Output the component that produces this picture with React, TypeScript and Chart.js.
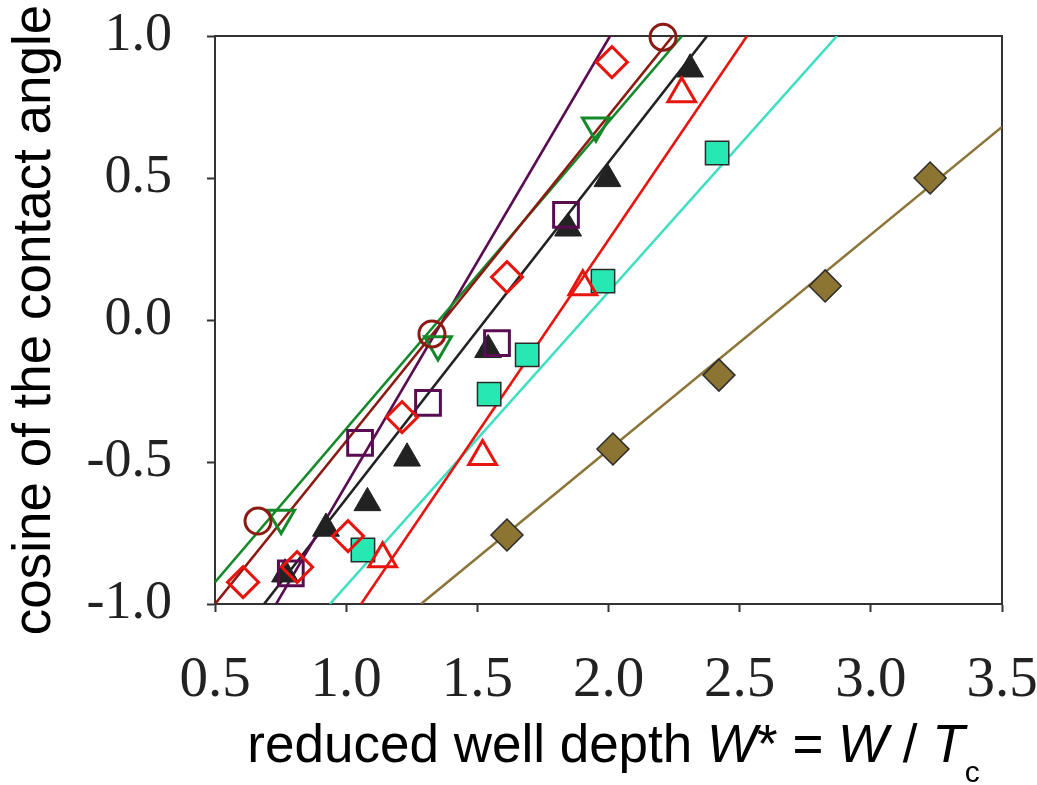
import React, { useEffect, useRef } from "react";
import { Chart, registerables } from "chart.js";

Chart.register(...registerables);

// ---- data ----
const xTicks = [0.5, 1.0, 1.5, 2.0, 2.5, 3.0, 3.5];
const yTicks = [-1.0, -0.5, 0.0, 0.5, 1.0];

// open dark-red circles
const circleX = [0.664, 1.327, 2.208];
const circleY = [-0.708, -0.049, 0.996];
// open green down-triangles
const downTriX = [0.752, 1.35, 1.952];
const downTriY = [-0.697, -0.086, 0.684];
// open purple squares
const purpleSqX = [0.789, 1.053, 1.312, 1.575, 1.838];
const purpleSqY = [-0.892, -0.433, -0.292, -0.081, 0.37];
// filled black triangles
const blackTriX = [0.767, 0.923, 1.081, 1.232, 1.541, 1.846, 1.996, 2.311];
const blackTriY = [-0.895, -0.734, -0.644, -0.487, -0.105, 0.323, 0.497, 0.883];
// open red diamonds
const redDiaX = [0.607, 0.813, 1.007, 1.213, 1.613, 2.013];
const redDiaY = [-0.923, -0.87, -0.761, -0.342, 0.151, 0.908];
// open red up-triangles
const redTriX = [1.139, 1.52, 1.902, 2.279];
const redTriY = [-0.841, -0.481, 0.117, 0.797];
// filled cyan squares
const cyanSqX = [1.064, 1.545, 1.69, 1.979, 2.414];
const cyanSqY = [-0.81, -0.261, -0.123, 0.137, 0.588];
// filled brown diamonds
const brownDiaX = [1.613, 2.017, 2.421, 2.826, 3.226];
const brownDiaY = [-0.757, -0.454, -0.194, 0.12, 0.5];

// fitted lines (end points read at the frame edges)
const fitDarkRedX = [0.5, 2.245];
const fitDarkRedY = [-1.0, 1.0];
const fitGreenX = [0.5, 2.28];
const fitGreenY = [-0.923, 1.0];
const fitPurpleX = [0.733, 2.006];
const fitPurpleY = [-1.0, 1.0];
const fitBlackX = [0.687, 2.376];
const fitBlackY = [-1.0, 1.0];
const fitRedX = [1.057, 2.528];
const fitRedY = [-1.0, 1.0];
const fitCyanX = [0.938, 2.871];
const fitCyanY = [-1.0, 1.0];
const fitBrownX = [1.285, 3.5];
const fitBrownY = [-1.0, 0.68];

const pts = (xs: number[], ys: number[]) => xs.map((x, i) => ({ x, y: ys[i] }));

const C = {
  darkRed: "#8c1a12",
  green: "#14892a",
  purple: "#5a0c52",
  black: "#222222",
  red: "#e8150e",
  cyanFill: "#27e8b2",
  cyanLine: "#3fdfc2",
  brownFill: "#8c7432",
  brownLine: "#8c7538",
  edge: "#2a2a2a",
};

const lineDs = (xs: number[], ys: number[], color: string) => ({
  type: "scatter" as const,
  data: pts(xs, ys),
  showLine: true,
  borderColor: color,
  borderWidth: 2.6,
  pointRadius: 0,
  fill: false,
  order: 10,
});

const markerDs = (
  xs: number[],
  ys: number[],
  style: string,
  radius: number,
  border: string,
  fillColor: string,
  bw: number,
  rotation = 0,
  order = 1
) => ({
  type: "scatter" as const,
  data: pts(xs, ys),
  showLine: false,
  pointStyle: style,
  pointRadius: radius,
  pointRotation: rotation,
  pointBorderColor: border,
  pointBackgroundColor: fillColor,
  pointBorderWidth: bw,
  borderColor: border,
  backgroundColor: fillColor,
  clip: false,
  order,
});

const framePlugin = {
  id: "frame",
  beforeDatasetsDraw(chart: any) {
    const { ctx, chartArea: a } = chart;
    ctx.save();
    ctx.strokeStyle = "#333";
    ctx.lineWidth = 2;
    ctx.beginPath();
    ctx.moveTo(a.left, a.top);
    ctx.lineTo(a.right, a.top);
    ctx.lineTo(a.right, a.bottom);
    ctx.stroke();
    ctx.restore();
  },
};

const xTitlePlugin = {
  id: "xTitle",
  afterDraw(chart: any) {
    const { ctx, chartArea: a } = chart;
    const normal = '53px "Liberation Sans", Arial, sans-serif';
    const italic = 'italic 53px "Liberation Sans", Arial, sans-serif';
    const small = '30px "Liberation Sans", Arial, sans-serif';
    const parts = [
      { t: "reduced well depth ", f: normal, dy: 0 },
      { t: "W", f: italic, dy: 0 },
      { t: "* = ", f: normal, dy: 0 },
      { t: "W", f: italic, dy: 0 },
      { t: " / ", f: normal, dy: 0 },
      { t: "T", f: italic, dy: 0 },
      { t: "c", f: small, dy: 20 },
    ];
    ctx.save();
    ctx.fillStyle = "#000";
    ctx.textBaseline = "alphabetic";
    ctx.textAlign = "left";
    let total = 0;
    const widths = parts.map((p) => {
      ctx.font = p.f;
      const w = ctx.measureText(p.t).width;
      total += w;
      return w;
    });
    let x = (a.left + a.right) / 2 + 5 - total / 2;
    const base = a.bottom + 158;
    parts.forEach((p, i) => {
      ctx.font = p.f;
      ctx.fillText(p.t, x, base + p.dy);
      x += widths[i];
    });
    ctx.restore();
  },
};

export default function App() {
  const ref = useRef<HTMLCanvasElement | null>(null);

  useEffect(() => {
    document.body.style.margin = "0";
    const canvas = ref.current;
    if (!canvas) return;
    const chart = new Chart(canvas, {
      type: "scatter",
      data: {
        datasets: [
          lineDs(fitDarkRedX, fitDarkRedY, C.darkRed),
          lineDs(fitGreenX, fitGreenY, C.green),
          lineDs(fitPurpleX, fitPurpleY, C.purple),
          lineDs(fitBlackX, fitBlackY, C.black),
          lineDs(fitRedX, fitRedY, C.red),
          lineDs(fitCyanX, fitCyanY, C.cyanLine),
          lineDs(fitBrownX, fitBrownY, C.brownLine),
          markerDs(redDiaX, redDiaY, "rectRot", 15.5, C.red, "rgba(0,0,0,0)", 3, 0, 0),
          markerDs(circleX, circleY, "circle", 13, C.darkRed, "rgba(0,0,0,0)", 3, 0, 1),
          markerDs(downTriX, downTriY, "triangle", 15.5, C.green, "rgba(0,0,0,0)", 3, 180, 1),
          markerDs(purpleSqX, purpleSqY, "rect", 17.5, C.purple, "rgba(0,0,0,0)", 3, 0, 2),
          markerDs(blackTriX, blackTriY, "triangle", 15.5, C.black, C.black, 1, 0, 3),
          markerDs(redTriX, redTriY, "triangle", 16, C.red, "rgba(0,0,0,0)", 3, 0, 1),
          markerDs(cyanSqX, cyanSqY, "rect", 16.5, C.edge, C.cyanFill, 1.5, 0, 1),
          markerDs(brownDiaX, brownDiaY, "rectRot", 16, C.edge, C.brownFill, 1.5, 0, 1),
        ] as any,
      },
      options: {
        responsive: false,
        animation: false,
        devicePixelRatio: 1,
        events: [],
        layout: { padding: { top: 36, right: 35, left: 0, bottom: 0 } },
        plugins: {
          legend: { display: false },
          tooltip: { enabled: false },
        },
        scales: {
          x: {
            type: "linear",
            min: xTicks[0],
            max: xTicks[xTicks.length - 1],
            afterBuildTicks: (s: any) => {
              s.ticks = xTicks.map((v) => ({ value: v }));
            },
            afterFit: (s: any) => {
              s.height = 181;
              s.paddingLeft = 0;
              s.paddingRight = 0;
            },
            grid: {
              display: true,
              drawOnChartArea: false,
              drawTicks: true,
              tickLength: 8,
              tickWidth: 2,
              color: "#333",
            },
            border: { display: true, color: "#333", width: 2 },
            ticks: {
              padding: 35,
              color: "#222",
              font: { family: '"Liberation Serif", "Times New Roman", serif', size: 57 },
              callback: (v: any) => Number(v).toFixed(1),
            },
            title: { display: false },
          },
          y: {
            type: "linear",
            min: yTicks[0],
            max: yTicks[yTicks.length - 1],
            afterBuildTicks: (s: any) => {
              s.ticks = yTicks.map((v) => ({ value: v }));
            },
            afterFit: (s: any) => {
              s.width = 215;
              s.paddingTop = 0;
              s.paddingBottom = 0;
            },
            grid: {
              display: true,
              drawOnChartArea: false,
              drawTicks: true,
              tickLength: 8,
              tickWidth: 2,
              color: "#333",
            },
            border: { display: true, color: "#333", width: 2 },
            ticks: {
              padding: 35,
              color: "#222",
              font: { family: '"Liberation Serif", "Times New Roman", serif', size: 54 },
              callback: (v: any) => Number(v).toFixed(1),
            },
            title: {
              display: true,
              text: "cosine of the contact angle",
              color: "#000",
              font: { family: '"Liberation Sans", Arial, sans-serif', size: 53 },
              padding: { top: 4, bottom: 0 },
            },
          },
        },
      } as any,
      plugins: [framePlugin, xTitlePlugin],
    });
    return () => chart.destroy();
  }, []);

  return (
    <div style={{ width: 1037, height: 785, position: "relative", overflow: "hidden", background: "#fff" }}>
      <canvas ref={ref} width={1037} height={785} style={{ display: "block" }} />
    </div>
  );
}
